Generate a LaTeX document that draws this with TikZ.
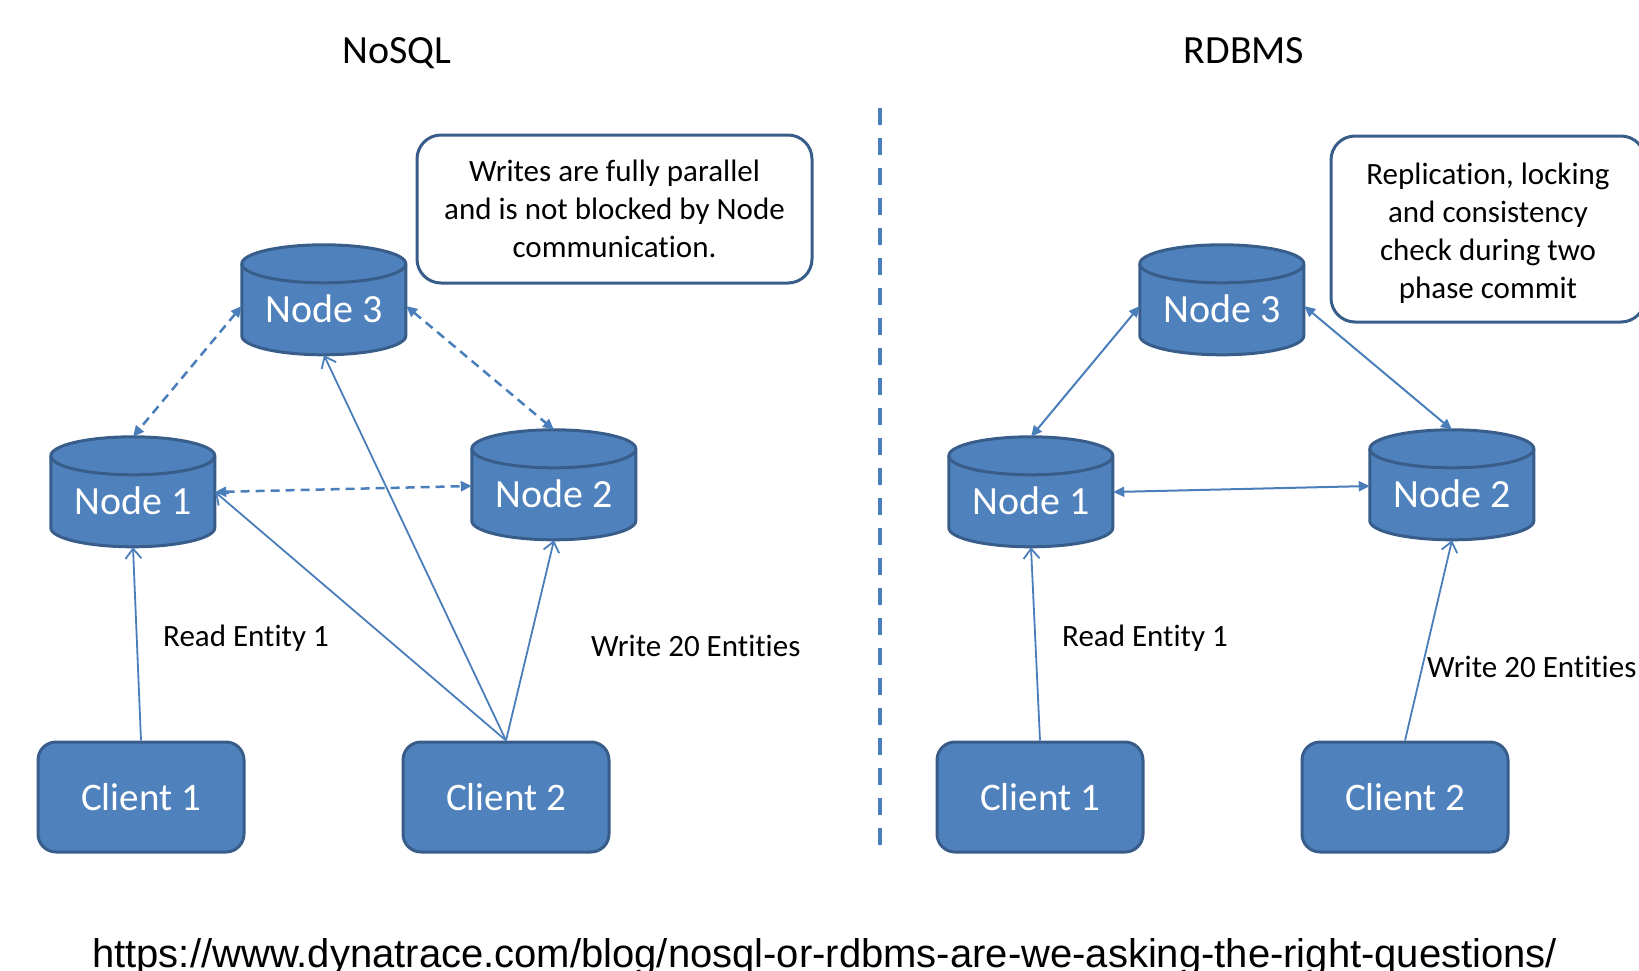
\documentclass[tikz,border=0pt]{standalone}
\usepackage{fontspec}
\setmainfont{Carlito}[Ligatures={NoCommon}]
\newfontfamily\urlfont{Liberation Sans}
\usetikzlibrary{arrows.meta}
\definecolor{cfill}{HTML}{4F81BD}
\definecolor{cborder}{HTML}{385D8A}
\definecolor{cline}{HTML}{4A7EBB}
\newcommand\cylnode[4]{%
  \node[cylbox] (#1) at (#2,#3) {};
  \path[cylshape] (#1.north west) ++(0,19) -- ++(0,72)
    arc[start angle=180,end angle=360,x radius=82pt,y radius=19pt] -- ++(0,-72)
    arc[start angle=0,end angle=180,x radius=82pt,y radius=19pt] -- cycle;
  \draw[cylline] (#1.north west) ++(0,19)
    arc[start angle=180,end angle=360,x radius=82pt,y radius=19pt];
  \node[cyltext] at (#2,{#3+22}) {#4};
}
\begin{document}
\begin{tikzpicture}[x=1pt,y=-1pt,
  cylbox/.style={rectangle,minimum width=164pt,minimum height=110pt,inner sep=0pt},
  cylshape/.style={fill=cfill,draw=cborder,line width=3pt,line join=round},
  cylline/.style={draw=cborder,line width=3pt},
  cyltext/.style={anchor=base,text=white,font=\fontsize{40}{48}\selectfont,inner sep=0pt},
  client/.style={rectangle,rounded corners=18pt,fill=cfill,draw=cborder,line width=3pt,
    minimum width=206pt,minimum height=110pt,text=white,font=\fontsize{39}{47}\selectfont},
  notebox/.style={rectangle,rounded corners=24pt,fill=white,draw=cborder,line width=3pt,
    align=center,font=\fontsize{31}{38}\selectfont},
  title/.style={anchor=base,font=\fontsize{40}{48}\selectfont},
  lbl/.style={anchor=base west,font=\fontsize{31}{38}\selectfont,inner sep=0pt},
  dasharrow/.style={draw=cline,line width=2.5pt,dash pattern=on 9pt off 6pt,
    {Triangle[length=11pt,width=10pt]}-{Triangle[length=11pt,width=10pt]}},
  solidarrow/.style={draw=cline,line width=2pt,
    {Triangle[length=11pt,width=10pt]}-{Triangle[length=11pt,width=10pt]}},
  reqarrow/.style={draw=cline,line width=1.8pt,-{Straight Barb[length=10pt,width=16pt]}},
  divider/.style={draw=cline,line width=4pt,dash pattern=on 17pt off 13pt}
]
\useasboundingbox (0,0) rectangle (1639,970);

% titles
\node[title] (t1) at (397,63) {NoSQL};
\node[title] (t2) at (1244,63) {RDBMS};

% divider
\coordinate (dtop) at (880,108);
\coordinate (dbot) at (880,850);
\draw[divider] (dtop) -- (dbot);

% ---------- NoSQL ----------
\cylnode{ln3}{324}{300}{Node 3}
\cylnode{ln1}{133}{492}{Node 1}
\cylnode{ln2}{554}{485}{Node 2}
\node[client] (lc1) at (141,797) {Client 1};
\node[client] (lc2) at (506,797) {Client 2};
\node[notebox,minimum width=395pt,minimum height=148pt] (lnote) at (614.5,209)
  {Writes are fully parallel\\and is not blocked by Node\\communication.};

\draw[dasharrow] ([yshift=-6pt]ln3.west) -- (ln1.north);
\draw[dasharrow] ([yshift=-6pt]ln3.east) -- (ln2.north);
\draw[dasharrow] (ln1.east) -- ([yshift=-1pt]ln2.west);
\draw[reqarrow] (lc1.north) -- (ln1.south);
\draw[reqarrow] (lc2.north) -- (ln1.east);
\draw[reqarrow] (lc2.north) -- (ln3.south);
\draw[reqarrow] (lc2.north) -- (ln2.south);
\node[lbl] (lread) at (163,646) {Read Entity 1};
\node[lbl] (lwrite) at (591,656) {Write 20 Entities};

% ---------- RDBMS ----------
\cylnode{rn3}{1222}{300}{Node 3}
\cylnode{rn1}{1031}{492}{Node 1}
\cylnode{rn2}{1452}{485}{Node 2}
\node[client] (rc1) at (1040,797) {Client 1};
\node[client] (rc2) at (1405,797) {Client 2};
\node[notebox,minimum width=314pt,minimum height=186pt] (rnote) at (1488,229)
  {\rule{0pt}{30pt}Replication, locking\\and consistency\\check during two\\phase commit};

\draw[solidarrow] ([yshift=-6pt]rn3.west) -- (rn1.north);
\draw[solidarrow] ([yshift=-6pt]rn3.east) -- (rn2.north);
\draw[solidarrow] (rn1.east) -- ([yshift=-1pt]rn2.west);
\draw[reqarrow] (rc1.north) -- (rn1.south);
\draw[reqarrow] (rc2.north) -- (rn2.south);
\node[lbl] (rread) at (1062,646) {Read Entity 1};
\node[lbl] (rwrite) at (1427,677) {Write 20 Entities};

% source
\node[anchor=base west,inner sep=0pt,font=\urlfont\fontsize{40}{48}\selectfont] (url) at (92,967)
  {https://www.dynatrace.com/blog/nosql-or-rdbms-are-we-asking-the-right-questions/};
\end{tikzpicture}
\end{document}
